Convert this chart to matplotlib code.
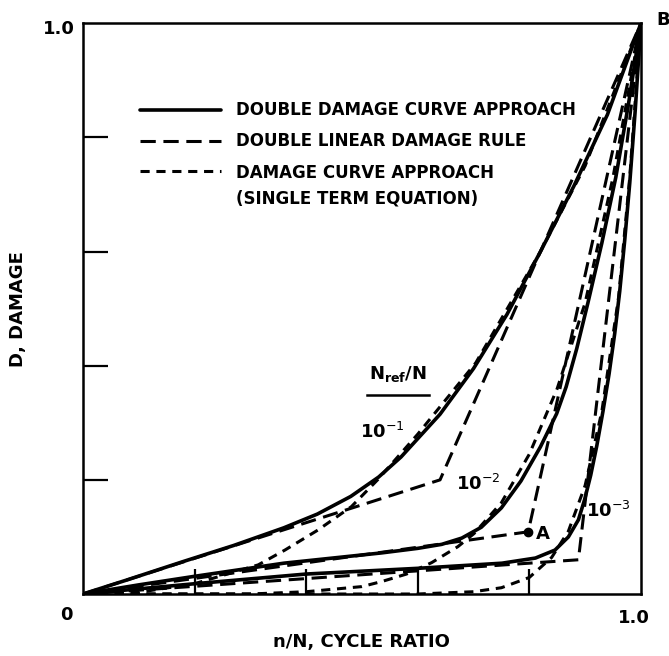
import matplotlib
matplotlib.use("Agg")
import matplotlib.pyplot as plt

# DDCA - double damage curve approach (solid)
ddca_1_x = [0, 0.08, 0.18, 0.27, 0.36, 0.42, 0.48, 0.53, 0.57, 0.64, 0.70, 0.76, 0.82, 0.88, 0.94, 1.0]
ddca_1_y = [0, 0.025, 0.057, 0.085, 0.116, 0.140, 0.171, 0.205, 0.240, 0.315, 0.395, 0.490, 0.600, 0.715, 0.840, 1.0]
ddca_2_x = [0, 0.10, 0.20, 0.36, 0.535, 0.60, 0.643, 0.679, 0.714, 0.750, 0.785, 0.820, 0.849, 0.866, 0.885, 0.905, 0.930, 0.955, 0.978, 1.0]
ddca_2_y = [0, 0.016, 0.031, 0.054, 0.072, 0.080, 0.087, 0.098, 0.117, 0.151, 0.198, 0.258, 0.316, 0.363, 0.430, 0.510, 0.615, 0.730, 0.860, 1.0]
ddca_3_x = [0, 0.20, 0.40, 0.60, 0.751, 0.811, 0.846, 0.870, 0.888, 0.899, 0.910, 0.921, 0.932, 0.943, 0.953, 0.962, 0.971, 0.980, 0.990, 1.0]
ddca_3_y = [0, 0.018, 0.035, 0.045, 0.054, 0.063, 0.077, 0.100, 0.130, 0.165, 0.208, 0.260, 0.320, 0.386, 0.456, 0.530, 0.620, 0.720, 0.850, 1.0]

# DLDR - double linear damage rule (long dash), origin -> knee -> B
dldr_1_x = [0, 0.640, 1.0]
dldr_1_y = [0, 0.200, 1.0]
dldr_2_x = [0, 0.798, 1.0]
dldr_2_y = [0, 0.109, 1.0]
dldr_3_x = [0, 0.888, 1.0]
dldr_3_y = [0, 0.060, 1.0]

# DCA - damage curve approach, single term (short dash)
dca_1_x = [0, 0.10, 0.20, 0.314, 0.362, 0.421, 0.481, 0.528, 0.60, 0.704, 0.820, 0.90, 1.0]
dca_1_y = [0, 0.003, 0.018, 0.051, 0.077, 0.112, 0.153, 0.200, 0.280, 0.405, 0.600, 0.750, 1.0]
dca_2_x = [0, 0.30, 0.40, 0.50, 0.536, 0.58, 0.625, 0.672, 0.701, 0.75, 0.80, 0.85, 0.90, 0.95, 1.0]
dca_2_y = [0, 0.0, 0.004, 0.013, 0.022, 0.035, 0.055, 0.083, 0.106, 0.160, 0.245, 0.360, 0.510, 0.730, 1.0]
dca_3_x = [0, 0.60, 0.70, 0.75, 0.80, 0.84, 0.87, 0.90, 0.93, 0.96, 0.98, 1.0]
dca_3_y = [0, 0.0, 0.004, 0.011, 0.029, 0.064, 0.110, 0.190, 0.320, 0.520, 0.730, 1.0]

point_a = (0.798, 0.109)
ratio_labels = ["10$^{-1}$", "10$^{-2}$", "10$^{-3}$"]
legend_labels = ["DOUBLE DAMAGE CURVE APPROACH", "DOUBLE LINEAR DAMAGE RULE",
                 "DAMAGE CURVE APPROACH\n(SINGLE TERM EQUATION)"]

plt.rcParams['font.family'] = ['DejaVu Sans']

fig = plt.figure(figsize=(6.69, 6.56), dpi=100)
ax = fig.add_axes([0.124, 0.0945, 0.834, 0.870])

solid = dict(color='black', lw=2.6, solid_capstyle='round')
longd = dict(color='black', lw=2.2, dashes=(5, 2.5))
shortd = dict(color='black', lw=2.2, dashes=(3, 2.2))

ax.plot(ddca_1_x, ddca_1_y, **solid)
ax.plot(ddca_2_x, ddca_2_y, **solid)
ax.plot(ddca_3_x, ddca_3_y, **solid)
ax.plot(dldr_1_x, dldr_1_y, **longd)
ax.plot(dldr_2_x, dldr_2_y, **longd)
ax.plot(dldr_3_x, dldr_3_y, **longd)
ax.plot(dca_1_x, dca_1_y, **shortd)
ax.plot(dca_2_x, dca_2_y, **shortd)
ax.plot(dca_3_x, dca_3_y, **shortd)
ax.plot(*point_a, 'o', color='black', ms=6)

ax.set_xlim(0, 1)
ax.set_ylim(0, 1)
ax.set_xticks([0.2, 0.4, 0.6, 0.8])
ax.set_yticks([0.2, 0.4, 0.6, 0.8])
ax.tick_params(direction='in', length=18, width=1.6, labelbottom=False, labelleft=False)
for s in ax.spines.values():
    s.set_linewidth(1.8)

# legend drawn by hand like the original
tf = dict(fontsize=12, fontweight='bold', va='center', transform=ax.transAxes)
leg_y = [0.848, 0.793, 0.741]
ax.plot([0.102, 0.247], [leg_y[0]] * 2, transform=ax.transAxes, **solid)
ax.plot([0.102, 0.247], [leg_y[1]] * 2, transform=ax.transAxes, **longd)
ax.plot([0.102, 0.247], [leg_y[2]] * 2, transform=ax.transAxes, **shortd)
ax.text(0.274, leg_y[0], legend_labels[0], **tf)
ax.text(0.274, leg_y[1], legend_labels[1], **tf)
ax.text(0.274, leg_y[2] - 0.026, legend_labels[2], linespacing=1.5, **tf)

lf = dict(fontsize=13, fontweight='bold', ha='center', va='center', transform=ax.transAxes)
ax.text(0.565, 0.385, "N$_{\\mathbf{ref}}$/N", **lf)
ax.plot([0.509, 0.621], [0.349, 0.349], color='black', lw=1.8, transform=ax.transAxes)
ax.text(0.536, 0.284, ratio_labels[0], **lf)
ax.text(0.709, 0.192, ratio_labels[1], **lf)
ax.text(0.942, 0.146, ratio_labels[2], **lf)
ax.text(0.825, 0.105, "A", **lf)

# corner labels
cf = dict(fontsize=13, fontweight='bold', va='center', transform=ax.transAxes)
ax.text(-0.014, 0.99, "1.0", ha='right', **cf)
ax.text(-0.029, -0.037, "0", ha='center', **cf)
ax.text(0.987, -0.042, "1.0", ha='center', **cf)
ax.text(1.04, 1.005, "B", ha='center', **cf)

ax.set_xlabel("n/N, CYCLE RATIO", fontsize=13, fontweight='bold', labelpad=28)
ax.set_ylabel("D, DAMAGE", fontsize=13, fontweight='bold', labelpad=40)

fig.savefig("out.png", dpi=100)
